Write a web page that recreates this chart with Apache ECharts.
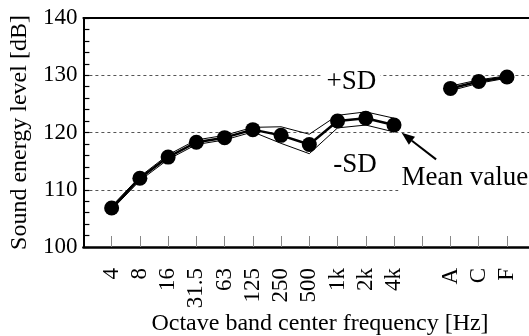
<!DOCTYPE html>
<html>
<head>
<meta charset="utf-8">
<script src="https://cdn.jsdelivr.net/npm/echarts@6/dist/echarts.min.js"></script>
<style>
  html, body { margin: 0; padding: 0; background: #fff; }
  #chart { width: 529px; height: 336px; }
</style>
</head>
<body>
<div id="chart"></div>
<script>
// Octave bands (blank slot separates the weighted levels A / C / F)
const categories = ['4', '8', '16', '31.5', '63', '125', '250', '500', '1k', '2k', '4k', '', 'A', 'C', 'F'];
// Sound energy level [dB]
const meanLevel = [106.8, 112.0, 115.7, 118.3, 119.1, 120.5, 119.5, 117.9, 122.0, 122.5, 121.3, null, 127.7, 128.9, 129.7];
const upperSD   = [107.1, 112.3, 116.1, 118.7, 119.5, 120.9, 121.0, 119.7, 123.0, 123.6, 122.5, null, 128.1, 129.2, 129.9];
const lowerSD   = [106.5, 111.6, 115.3, 117.9, 118.7, 120.1, 118.1, 116.3, 120.8, 121.3, 120.1, null, 127.3, 128.6, 129.5];

const yMin = 100, yMax = 140, yStep = 10;
const xMin = 0, xMax = 15.78;

const SERIF = '"Liberation Serif", "Times New Roman", Times, serif';

// band i sits at x = i + 1
const toPairs = arr => arr.map((v, i) => [i + 1, v == null ? '-' : v]);

const chart = echarts.init(document.getElementById('chart'), null, { renderer: 'canvas' });

chart.setOption({
  animation: false,
  backgroundColor: '#fff',
  grid: { left: 79, right: -2, top: 18, bottom: 89, containLabel: false },
  xAxis: [{
    type: 'value',
    min: xMin, max: xMax, interval: 1,
    axisLine: { show: true, onZero: false, lineStyle: { color: '#000', width: 2.5 } },
    axisTick: { show: true, inside: true, length: 11, lineStyle: { color: '#888', width: 1 } },
    splitLine: { show: false },
    axisLabel: {
      rotate: 90, margin: 21, color: '#000',
      fontFamily: SERIF, fontSize: 23,
      padding: [12, 0, 0, 0],
      showMaxLabel: false, showMinLabel: false,
      formatter: v => (Number.isInteger(v) && v >= 1 && v <= categories.length) ? categories[v - 1] : ''
    }
  }, {
    type: 'value', position: 'top',
    min: xMin, max: xMax, interval: 1,
    axisLine: { show: true, onZero: false, lineStyle: { color: '#000', width: 2 } },
    axisTick: { show: false }, axisLabel: { show: false }, splitLine: { show: false }
  }],
  yAxis: {
    type: 'value',
    min: yMin, max: yMax, interval: yStep,
    name: 'Sound energy level [dB]',
    nameLocation: 'middle', nameGap: 40,
    nameTextStyle: { fontFamily: SERIF, fontSize: 24, color: '#000' },
    axisLine: { show: true, onZero: false, lineStyle: { color: '#000', width: 2 } },
    axisTick: { show: true, inside: true, length: 6, lineStyle: { color: '#000', width: 1.2 } },
    minorTick: { show: true, splitNumber: 5, length: 6, lineStyle: { color: '#000', width: 1.2 } },
    splitLine: { show: true, lineStyle: { color: '#555', width: 1, type: [3, 3] } },
    axisLabel: { margin: 6, color: '#000', fontFamily: SERIF, fontSize: 23 }
  },
  series: [
    {
      name: '+SD', type: 'line', data: toPairs(upperSD),
      symbol: 'none', connectNulls: false, z: 2,
      lineStyle: { color: '#000', width: 1 }
    },
    {
      name: '-SD', type: 'line', data: toPairs(lowerSD),
      symbol: 'none', connectNulls: false, z: 2,
      lineStyle: { color: '#000', width: 1 }
    },
    {
      name: 'Mean value', type: 'line', data: toPairs(meanLevel),
      symbol: 'circle', symbolSize: 15, connectNulls: false, z: 3,
      lineStyle: { color: '#000', width: 2.5 },
      itemStyle: { color: '#000' }
    }
  ]
});

// Text annotations and the pointer arrow, placed in data space
const notes = [
  { text: '+SD', at: [9.49, 128.8], align: 'center', pad: [0, 4] },
  { text: '-SD', at: [9.62, 114.3], align: 'center', pad: [0, 4] },
  { text: 'Mean value', at: [11.16, 112.0], align: 'left', pad: [2, 3] }
];
const arrowTail = [12.49, 115.3];
const arrowTip = [11.27, 119.95];
const xTitleAt = 8.38;

const px = p => chart.convertToPixel({ gridIndex: 0 }, p);

const graphics = notes.map(n => {
  const p = px(n.at);
  return {
    type: 'text', x: p[0], y: p[1], z: 10,
    style: {
      text: n.text, fill: '#000', font: '27px ' + SERIF,
      align: n.align, verticalAlign: 'middle',
      backgroundColor: '#fff', padding: n.pad
    }
  };
});

const t = px(arrowTail), h = px(arrowTip);
const ang = Math.atan2(h[1] - t[1], h[0] - t[0]);
const headLen = 13, headHalf = 5;
const base = [h[0] - headLen * Math.cos(ang), h[1] - headLen * Math.sin(ang)];
graphics.push({
  type: 'line', z: 11,
  shape: { x1: t[0], y1: t[1], x2: base[0], y2: base[1] },
  style: { stroke: '#000', lineWidth: 2 }
});
graphics.push({
  type: 'polygon', z: 11,
  shape: { points: [
    h,
    [base[0] + headHalf * Math.sin(ang), base[1] - headHalf * Math.cos(ang)],
    [base[0] - headHalf * Math.sin(ang), base[1] + headHalf * Math.cos(ang)]
  ] },
  style: { fill: '#000' }
});

// Horizontal axis title
const xs = px([xTitleAt, yMin]);
graphics.push({
  type: 'text', x: xs[0], y: 324, z: 10,
  style: {
    text: 'Octave band center frequency [Hz]', fill: '#000', font: '24px ' + SERIF,
    align: 'center', verticalAlign: 'middle'
  }
});

chart.setOption({ graphic: graphics });
</script>
</body>
</html>
